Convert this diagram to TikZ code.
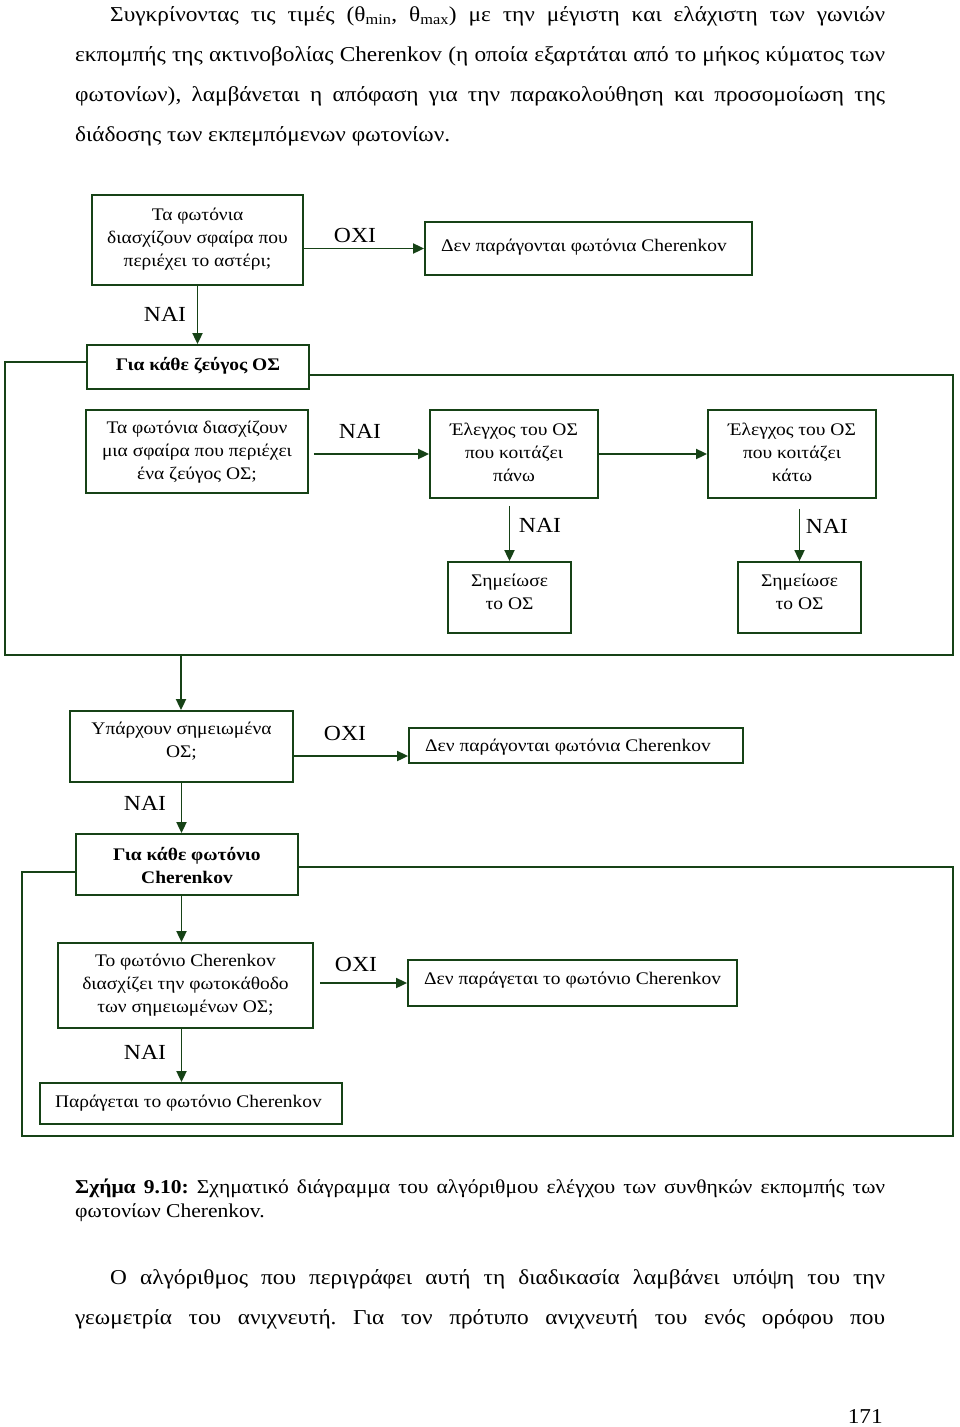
\documentclass[tikz,border=0pt]{standalone}
\usepackage{fontspec}
\setmainfont{Liberation Serif}[FakeStretch=1.1]
\usetikzlibrary{arrows.meta}
\definecolor{lc}{RGB}{22,66,22}
\newcommand{\dfont}{\fontsize{17.7}{23}\selectfont}
\newcommand{\lfont}{\fontsize{21.5}{24}\selectfont}
\newcommand{\bfont}{\fontsize{21.2}{24}\selectfont}
\newcommand{\cfont}{\fontsize{19.6}{24}\selectfont}
\frenchspacing
\tikzset{
  box/.style={draw=lc, line width=1.8pt, inner sep=0pt},
  txt/.style={inner sep=0pt, align=center, font=\dfont},
  lbl/.style={inner sep=0pt, font=\lfont},
  body/.style={inner sep=0pt, anchor=base west, font=\bfont},
  capt/.style={inner sep=0pt, anchor=base west, font=\cfont},
  conn/.style={draw=lc, line width=1.8pt},
  arr/.style={conn, -{Triangle[length=11pt,width=10pt]}}
}
\begin{document}
\begin{tikzpicture}[x=1pt,y=-1pt]
\useasboundingbox[fill=white] (0,0) rectangle (960,1427);
% body text
\node[body] (p1a) at (110,21) {\hbox to 775pt{Συγκρίνοντας τις τιμές (θ\textsubscript{min}, θ\textsubscript{max}) με την μέγιστη και ελάχιστη των γωνιών}};
\node[body] (p1b) at (75,61) {\hbox to 810pt{εκπομπής της ακτινοβολίας Cherenkov (η οποία εξαρτάται από το μήκος κύματος των}};
\node[body] (p1c) at (75,101) {\hbox to 810pt{φωτονίων), λαμβάνεται η απόφαση για την παρακολούθηση και προσομοίωση της}};
\node[body] (p1d) at (75,141) {διάδοσης των εκπεμπόμενων φωτονίων.};
% boxes
\node[box, minimum width=211, minimum height=90] (A) at (197.5,240) {};
\node[box, minimum width=327, minimum height=53] (B) at (588.5,248.5) {};
\node[box, minimum width=222, minimum height=44] (C) at (198,367) {};
\node[box, minimum width=222, minimum height=83] (D) at (197,451.5) {};
\node[box, minimum width=168, minimum height=88] (E) at (514,454) {};
\node[box, minimum width=168, minimum height=88] (F) at (792,454) {};
\node[box, minimum width=123, minimum height=71] (G) at (509.5,597.5) {};
\node[box, minimum width=123, minimum height=71] (H) at (799.5,597.5) {};
\node[box, minimum width=223, minimum height=71] (I) at (181.5,746.5) {};
\node[box, minimum width=334, minimum height=35] (J) at (576,745.5) {};
\node[box, minimum width=222, minimum height=61] (K) at (187,864.5) {};
\node[box, minimum width=255, minimum height=85] (L) at (185.5,985.5) {};
\node[box, minimum width=329, minimum height=46] (M) at (572.5,983) {};
\node[box, minimum width=302, minimum height=41] (N) at (191,1103.5) {};
% box texts
\node[txt] (At) at (197.5,239) {Τα φωτόνια\\διασχίζουν σφαίρα που\\περιέχει το αστέρι;};
\node[txt, anchor=west] (Bt) at (441,247) {Δεν παράγονται φωτόνια Cherenkov};
\node[txt, font=\dfont\bfseries] (Ct) at (198,366) {Για κάθε ζεύγος ΟΣ};
\node[txt] (Dt) at (197,452) {Τα φωτόνια διασχίζουν\\μια σφαίρα που περιέχει\\ένα ζεύγος ΟΣ;};
\node[txt] (Et) at (514,452) {Έλεγχος του ΟΣ\\που κοιτάζει\\πάνω};
\node[txt] (Ft) at (792,452) {Έλεγχος του ΟΣ\\που κοιτάζει\\κάτω};
\node[txt] (Gt) at (509.5,592) {Σημείωσε\\το ΟΣ};
\node[txt] (Ht) at (799.5,592) {Σημείωσε\\το ΟΣ};
\node[txt] (It) at (181.5,741.5) {Υπάρχουν σημειωμένα\\ΟΣ;};
\node[txt, anchor=west] (Jt) at (425,747) {Δεν παράγονται φωτόνια Cherenkov};
\node[txt, font=\dfont\bfseries] (Kt) at (187,865.5) {Για κάθε φωτόνιο\\Cherenkov};
\node[txt] (Lt) at (185.5,985) {Το φωτόνιο Cherenkov\\διασχίζει την φωτοκάθοδο\\των σημειωμένων ΟΣ;};
\node[txt, anchor=west] (Mt) at (424,980) {Δεν παράγεται το φωτόνιο Cherenkov};
\node[txt] (Nt) at (188.5,1103) {Παράγεται το φωτόνιο Cherenkov};
% labels
\node[lbl] (l1) at (355,235) {ΟΧΙ};
\node[lbl] (l2) at (165,314) {ΝΑΙ};
\node[lbl] (l3) at (360,431) {ΝΑΙ};
\node[lbl] (l4) at (540,525) {ΝΑΙ};
\node[lbl] (l5) at (827,526) {ΝΑΙ};
\node[lbl] (l6) at (345,733) {ΟΧΙ};
\node[lbl] (l7) at (145,803) {ΝΑΙ};
\node[lbl] (l8) at (356,964) {ΟΧΙ};
\node[lbl] (l9) at (145,1052) {ΝΑΙ};
% loop corners
\coordinate (c1) at (5,362);
\coordinate (c2) at (5,655);
\coordinate (c3) at (953,655);
\coordinate (c4) at (953,375);
\coordinate (lb) at (181,655);
\coordinate (k1) at (22,872);
\coordinate (k2) at (22,1136);
\coordinate (k3) at (953,1136);
\coordinate (k4) at (953,867);
% connectors
\draw[arr] (A.east |- B.west) -- (B.west);
\draw[arr] (A.south) -- (A.south |- C.north);
\draw[conn] ([yshift=5pt]C.west) -- (c1) -- (c2) -- (c3) -- (c4) -- ([yshift=-8pt]C.east);
\draw[arr, shorten <=5pt] (D.east |- E.west) -- (E.west);
\draw[arr] (E.east) -- (F.west);
\draw[arr, shorten <=7pt] (G.north |- E.south) -- (G.north);
\draw[arr, shorten <=10pt] (H.north |- F.south) -- (H.north);
\draw[arr] (lb) -- (lb |- I.north);
\draw[arr] ([yshift=-9.5pt]I.east) -- ([yshift=-10.5pt]J.west);
\draw[arr] (I.south) -- (I.south |- K.north);
\draw[conn] ([yshift=-7.5pt]K.west) -- (k1) -- (k2) -- (k3) -- (k4) -- ([yshift=-2.5pt]K.east);
\draw[arr] (I.south |- K.south) -- (I.south |- L.north);
\draw[arr, shorten <=6pt] (M.west -| L.east) -- (M.west);
\draw[arr] (I.south |- L.south) -- (I.south |- N.north);
% caption
\node[capt] (cap1) at (75,1193) {\hbox to 810pt{\textbf{Σχήμα 9.10:} Σχηματικό διάγραμμα του αλγόριθμου ελέγχου των συνθηκών εκπομπής των}};
\node[capt] (cap2) at (75,1217) {φωτονίων Cherenkov.};
% paragraph 2
\node[body] (p2a) at (110,1284) {\hbox to 775pt{Ο αλγόριθμος που περιγράφει αυτή τη διαδικασία λαμβάνει υπόψη του την}};
\node[body] (p2b) at (75,1324) {\hbox to 810pt{γεωμετρία του ανιχνευτή. Για τον πρότυπο ανιχνευτή του ενός ορόφου που}};
% page number
\node[body, anchor=base east] (pg) at (883,1423) {171};
\end{tikzpicture}
\end{document}
